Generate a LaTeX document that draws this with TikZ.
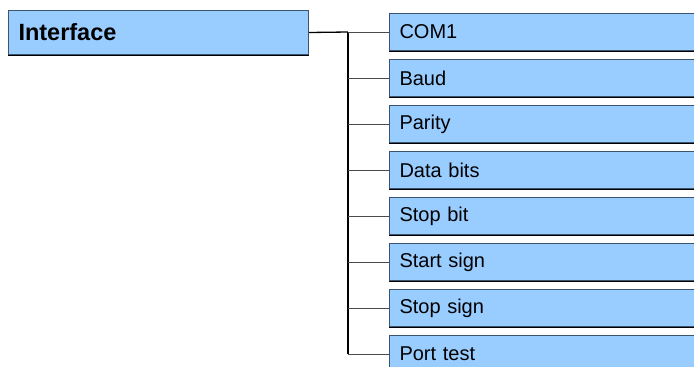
\documentclass[tikz,border=0pt]{standalone}
\usepackage{fontspec}
\setmainfont{Liberation Sans}
\definecolor{boxfill}{HTML}{99CCFF}
\definecolor{boxline}{HTML}{3A5570}
\definecolor{branch}{HTML}{4A4A4A}
\begin{document}
\begin{tikzpicture}[x=1pt,y=-1pt,
  topbox/.style={draw=boxline, fill=boxfill, line width=1pt, rectangle,
    minimum width=300pt, minimum height=44pt, text width=280pt, align=left,
    inner xsep=10pt, inner ysep=0pt, anchor=north west,
    font=\fontsize{23.5}{25}\selectfont\bfseries},
  itembox/.style={draw=boxline, fill=boxfill, line width=1pt, rectangle,
    minimum width=311pt, minimum height=37pt, text width=291pt, align=left,
    inner xsep=10pt, inner ysep=0pt, anchor=north west,
    font=\fontsize{20}{22}\selectfont},
  trunk/.style={black, line width=1.3pt},
  twig/.style={branch, line width=0.9pt}]
\useasboundingbox (0,0) rectangle (694,367);
\clip (0,0) rectangle (694,367);
\node[topbox] (iface) at (8,10) {Interface};
\draw[black, line width=1pt] (iface.south west) -- (iface.south east);
\foreach \n/\t [count=\i from 0] in {b1/COM1, b2/Baud, b3/Parity, b4/Data bits, b5/Stop bit, b6/Start sign, b7/Stop sign, b8/Port test}{
  \node[itembox] (\n) at (389, 13+46*\i) {\t};
  \draw[black, line width=1pt] (\n.south west) -- (\n.south east);
}
\coordinate (tr) at (348,32);
\draw[trunk] (iface.east) -- (tr);
\draw[trunk] (tr) -- (tr |- b8.west);
\foreach \n in {b1,b2,b3,b4,b5,b6,b7,b8}{
  \draw[twig] (tr |- \n.west) -- (\n.west);
}
\end{tikzpicture}
\end{document}
